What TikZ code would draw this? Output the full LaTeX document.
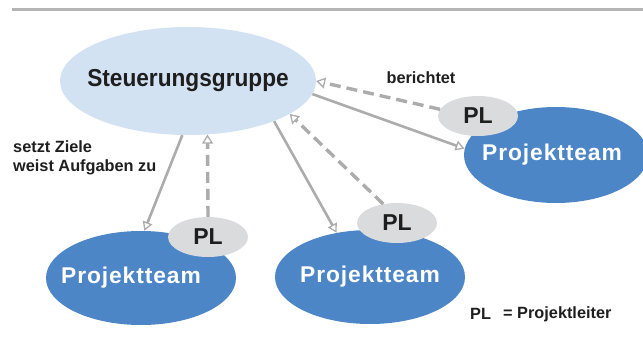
\documentclass[tikz,border=0pt]{standalone}
\usepackage{fontspec}
\setmainfont{Liberation Sans}
\newfontfamily\sgfont[FakeStretch=0.925]{Liberation Sans}
\newfontfamily\ptfont[LetterSpace=4]{Liberation Sans}
\usetikzlibrary{shapes.geometric,arrows.meta}
\definecolor{sgblue}{RGB}{211,226,243}
\definecolor{ptblue}{RGB}{77,134,198}
\definecolor{plgray}{RGB}{218,219,221}
\definecolor{arrgray}{RGB}{172,172,172}
\definecolor{linegray}{RGB}{180,180,180}
\definecolor{txt}{RGB}{30,30,30}
\newcommand{\fixw}[1]{\makebox[0pt]{#1}}
\begin{document}
\begin{tikzpicture}[x=1pt,y=-1pt,
  sgnode/.style={ellipse,fill=sgblue,inner sep=0pt,minimum width=256pt,minimum height=108pt,
     font=\sgfont\fontsize{24.5}{28}\selectfont\bfseries,text=txt},
  ptnode/.style={ellipse,fill=ptblue,inner sep=0pt,minimum width=190pt,minimum height=94pt,
     font=\ptfont\fontsize{22.8}{27}\selectfont\bfseries,text=white},
  plnode/.style={ellipse,fill=plgray,inner sep=0pt,minimum width=80pt,minimum height=40pt,
     font=\fontsize{23}{26}\selectfont\bfseries,text=txt},
  lbl/.style={font=\fontsize{16.3}{20}\selectfont\bfseries,text=txt,inner sep=0pt},
  solidarr/.style={draw=arrgray,line width=2.6pt,-{Triangle[open,length=9pt,width=10pt,line width=1.3pt]}},
  dasharr/.style={draw=arrgray,line width=3.4pt,dash pattern=on 11pt off 6pt,-{Triangle[open,length=9pt,width=11pt,line width=1.3pt]}}
]
\useasboundingbox (0,0) rectangle (643,345);
\draw[linegray,line width=3pt] (12,9.5) -- (643,9.5);

\node[sgnode] (sg) at (188,81) {\fixw{Steuerungsgruppe}};

\node[ptnode] (pt1) at (141,278) {\fixw{Projektteam\hspace*{20pt}}};
\node[ptnode] (pt2) at (370,277) {\fixw{Projektteam}};
\node[ptnode,minimum width=184pt,minimum height=96pt] (pt3) at (556,155) {\fixw{Projektteam\hspace*{8pt}}};

\node[plnode] (pl1) at (208,237) {\fixw{PL}};
\node[plnode] (pl2) at (397,223) {\fixw{PL}};
\node[plnode] (pl3) at (478,116) {\fixw{PL}};

\draw[solidarr] (sg.-96) -- (pt1.86);
\draw[solidarr] (sg.-25) -- (pt2.127);
\draw[solidarr] (sg.-6) -- (pt3.176);

\draw[dasharr] (pl1.north) -- (sg.-70);
\draw[dasharr] (pl2.126) -- (sg.-18);
\draw[dasharr] (pl3.170) -- (sg.east);

\node[lbl,anchor=west] (lb1) at (13,147) {setzt Ziele};
\node[lbl,anchor=west] (lb2) at (13,167) {weist Aufgaben zu};
\node[lbl] (lb3) at (421,78) {berichtet};
\node[lbl,anchor=west] (lg1) at (470,314) {PL};
\node[lbl,anchor=west] (lg2) at (503,314) {= Projektleiter};
\end{tikzpicture}
\end{document}
